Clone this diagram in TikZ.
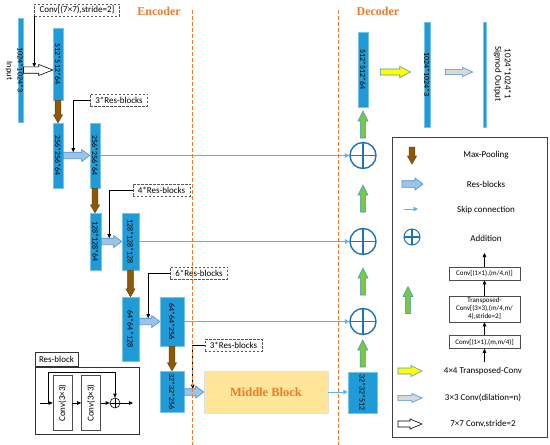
\documentclass[tikz,border=0pt]{standalone}
\usepackage{fontspec}
\setmainfont{Carlito}
\newfontfamily\headfont{Liberation Serif}
\usetikzlibrary{calc,arrows.meta}

\definecolor{fmapblue}{HTML}{1F9BD8}
\definecolor{resfill}{HTML}{9DC3E6}
\definecolor{resline}{HTML}{4A94D0}
\definecolor{skipblue}{HTML}{5AB4E6}
\definecolor{poolbrown}{HTML}{8A5A08}
\definecolor{upgreen}{HTML}{78C841}
\definecolor{headorange}{HTML}{F07A26}
\definecolor{sepcolor}{RGB}{240,120,40}
\definecolor{addblue}{HTML}{1E73BE}
\definecolor{midyellow}{HTML}{FFE699}
\definecolor{tconvyellow}{HTML}{FFFF00}
\definecolor{dilgrey}{HTML}{D9D9D9}
\definecolor{frame70}{HTML}{404040}

% block arrows: style, shaft half, head half, head length, tail, tip
\newcommand{\blockR}[6]{%
  \path[#1] let \p1=(#5), \p2=(#6) in
    (\x1,\y1+#2) -- (\x2-#4,\y1+#2) -- (\x2-#4,\y1+#3) -- (\x2,\y1)
    -- (\x2-#4,\y1-#3) -- (\x2-#4,\y1-#2) -- (\x1,\y1-#2) -- cycle;}
\newcommand{\blockD}[6]{%
  \path[#1] let \p1=(#5), \p2=(#6) in
    (\x1-#2,\y1) -- (\x1-#2,\y2+#4) -- (\x1-#3,\y2+#4) -- (\x1,\y2)
    -- (\x1+#3,\y2+#4) -- (\x1+#2,\y2+#4) -- (\x1+#2,\y1) -- cycle;}
\newcommand{\blockU}[6]{%
  \path[#1] let \p1=(#5), \p2=(#6) in
    (\x1-#2,\y1) -- (\x1-#2,\y2-#4) -- (\x1-#3,\y2-#4) -- (\x1,\y2)
    -- (\x1+#3,\y2-#4) -- (\x1+#2,\y2-#4) -- (\x1+#2,\y1) -- cycle;}

\newcommand{\poolarrow}[2]{\blockD{pool}{2.8pt}{4.6pt}{8pt}{#1}{#2}}
\newcommand{\resarrow}[2]{\blockR{resblk}{3.3pt}{6pt}{8pt}{#1}{#2}}
\newcommand{\convarrow}[2]{\blockR{conv7}{3.2pt}{5.5pt}{14pt}{#1}{#2}}
\newcommand{\tconvarrow}[2]{\blockR{tconv}{3pt}{5.5pt}{11pt}{#1}{#2}}
\newcommand{\dilarrow}[2]{\blockR{dilconv}{2.6pt}{4.5pt}{10pt}{#1}{#2}}
% green upsampling arrow, centred between two anchors
\newcommand{\upsarrow}[2]{\blockU{ups}{2.6pt}{5pt}{10pt}{$(#1)!.5!(#2)+(0,13.5)$}{$(#1)!.5!(#2)+(0,-13.5)$}}

\tikzset{
  fmap/.style={fill=fmapblue, draw=fmapblue!60!white, line width=0.5pt, inner sep=0pt},
  maplbl/.style={rotate=-90, inner sep=0pt, font=\fontsize{8}{9}\selectfont},
  pool/.style={fill=poolbrown, draw=poolbrown!70!black, line width=0.5pt},
  resblk/.style={fill=resfill, draw=resline, line width=0.6pt},
  conv7/.style={fill=white, draw=black, line width=0.6pt},
  tconv/.style={fill=tconvyellow, draw=resline, line width=0.6pt},
  dilconv/.style={fill=dilgrey, draw=resline, line width=0.6pt},
  ups/.style={fill=upgreen, draw=resline, line width=0.6pt},
  skip/.style={draw=skipblue, line width=0.9pt, -{Triangle[length=4.5pt,width=4.5pt]}},
  addc/.style={circle, draw=addblue, line width=1.4pt, minimum size=#1, inner sep=0pt,
    path picture={\draw[addblue, line width=1.4pt]
      (path picture bounding box.north) -- (path picture bounding box.south)
      (path picture bounding box.west) -- (path picture bounding box.east);}},
  addc/.default=26pt,
  sumc/.style={circle, draw=black, line width=0.6pt, minimum size=10pt, inner sep=0pt,
    path picture={\draw[black, line width=0.6pt]
      (path picture bounding box.north) -- (path picture bounding box.south)
      (path picture bounding box.west) -- (path picture bounding box.east);}},
  lbl/.style={draw=black, line width=0.6pt, -{Triangle[length=4pt,width=3.5pt]}},
  rblabel/.style={draw=black!65, dash pattern=on 2.5pt off 1.5pt, line width=0.6pt,
    inner xsep=5pt, inner ysep=0pt, minimum height=12pt, font=\fontsize{9}{10}\selectfont},
  stagesep/.style={draw=sepcolor, line width=1.3pt, dash pattern=on 3.5pt off 2.5pt},
  headlbl/.style={text=headorange, font=\headfont\bfseries\fontsize{12}{14}\selectfont},
  midblk/.style={fill=midyellow, draw=black!12, line width=0.6pt, minimum width=124pt,
    minimum height=42pt, text=headorange, font=\headfont\bfseries\fontsize{12.5}{14}\selectfont},
  legtxt/.style={font=\fontsize{9}{10}\selectfont, inner sep=0pt},
  chainbox/.style={draw=black!70, line width=0.6pt, minimum width=71pt, minimum height=13pt,
    inner sep=1pt, align=center, font=\fontsize{7}{8}\selectfont},
  flow/.style={draw=black, line width=0.7pt, -{Triangle[length=4pt,width=3.5pt]}},
  rbconv/.style={draw=black!70, line width=0.6pt, minimum width=19pt, minimum height=55pt, inner sep=0pt},
}

\begin{document}
\begin{tikzpicture}[x=1pt, y=-1pt]

  \path[use as bounding box, fill=white] (0,0) rectangle (550,445);

  % === Feature maps ===
  \foreach \nm/\cx/\cy/\mw/\mh/\txt in {
      inp/20.5/70/5.5/104/1024*1024*3,
      e1/58/64/10/72/512*512*64,
      e2/58/155.5/10/65/256*256*64,
      e3/95/155.5/10/65/256*256*64,
      e4/95.5/241.5/11/57/128*128*64,
      e5/130.5/241.5/17/57/128*128*128,
      e6/130.5/329/17/64/64*64*128,
      e7/172/321.5/24/49/64*64*256,
      e8/172/391.5/24/41/32*32*256,
      d1/362.5/392.5/29/41/32*32*512,
      d2/363/69.5/10/75/512*512*64,
      d3/427/74.5/6/105/1024*1024*3,
      d4/484.5/74.5/3/105/} {
    \node[fmap, minimum width=\mw, minimum height=\mh] (\nm) at (\cx,\cy) {};
    \node[maplbl] at (\nm) {\txt};
  }
  \node[rotate=-90, inner sep=0pt, font=\fontsize{8.5}{9}\selectfont] (inlbl) at (9,71) {Input};
  \node[rotate=-90, inner sep=0pt, align=center, font=\fontsize{9}{9.5}\selectfont] (outlbl)
    at (502.5,74) {1024*1024*1\\Sigmod Output};

  % Middle block
  \node[midblk] (mid) at (266,392) {Middle Block};

  % === Encoder arrows ===
  \convarrow{inp.east}{e1.west}
  \poolarrow{e1.south}{e2.north}
  \resarrow{e2.east}{e3.west}
  \poolarrow{e3.south}{e4.north}
  \resarrow{e4.east}{e5.west}
  \poolarrow{e5.south}{e6.north}
  \resarrow{e6.east |- e7}{e7.west}
  \poolarrow{e7.south}{e8.north}
  \resarrow{e8.east |- mid}{mid.west}

  % === Decoder: additions and upsampling ===
  \node[addc] (c1) at (d2 |- e3) {};
  \node[addc] (c2) at (d2 |- e5) {};
  \node[addc] (c3) at (d2 |- e7) {};
  \draw[skip] (e3.east) -- (c1.west);
  \draw[skip] (e5.east) -- (c2.west);
  \draw[skip] (e7.east) -- (c3.west);
  \draw[skip] (mid.east) -- (mid.east -| d1.west);
  \upsarrow{d1.north}{c3.south}
  \upsarrow{c3.north}{c2.south}
  \upsarrow{c2.north}{c1.south}
  \upsarrow{c1.north}{d2.south}
  \tconvarrow{[xshift=12pt,yshift=-2.5pt]d2.east}{[xshift=-13pt]d3.west}
  \dilarrow{[xshift=15pt,yshift=2.5pt]d3.east}{[xshift=-10pt]d4.west}

  % === Block labels ===
  \node[rblabel] (k1) at (77,10) {Conv[(7×7),stride=2]};
  \node[rblabel] (k2) at (119,100) {3*Res-blocks};
  \node[rblabel] (k3) at (161.5,190) {4*Res-blocks};
  \node[rblabel] (k4) at (199,273) {6*Res-blocks};
  \node[rblabel] (k5) at (233.5,345.5) {3*Res-blocks};
  \draw[lbl, shorten >=3pt] (k1.south west) -- (k1.south west |- inp.east);
  \draw[lbl, shorten >=3.3pt] (k2.west) -| ([xshift=10pt]e2.east);
  \draw[lbl, shorten >=3.3pt] (k3.west) -| ([xshift=8pt]e4.east);
  \draw[lbl, shorten >=3.3pt] (k4.west) -| ($(e6.east |- e7)+(9,0)$);
  \draw[lbl, shorten >=3.3pt] (k5.west) -| ($(e8.east |- mid)+(8.5,0)$);

  % Encoder / decoder split
  \draw[stagesep] (192.5,10) -- (192.5,445);
  \draw[stagesep] (338.5,10) -- (338.5,445);
  \node[headlbl] (enc) at (159,11) {Encoder};
  \node[headlbl] (dec) at (378,11) {Decoder};

  % === Legend ===
  \node[draw=frame70, line width=0.8pt, minimum width=155pt, minimum height=300pt] (legend) at (469.5,287) {};
  \coordinate (lgpoolA) at (412,147);
  \coordinate (lgpoolB) at (412,164);
  \poolarrow{lgpoolA}{lgpoolB}
  \node[legtxt] (lt1) at (486,155) {Max-Pooling};
  \coordinate (lgresA) at (402,184);
  \coordinate (lgresB) at (423,184);
  \resarrow{lgresA}{lgresB}
  \node[legtxt] (lt2) at (486,184) {Res-blocks};
  \coordinate (lgskipA) at (404,209);
  \coordinate (lgskipB) at (418,209);
  \draw[skip] (lgskipA) -- (lgskipB);
  \node[legtxt] (lt3) at (486,210) {Skip connection};
  \node[addc=16pt, line width=1pt] (lgadd) at (412,237) {};
  \node[legtxt] (lt4) at (486,238) {Addition};

  % upsampling block chain
  \node[chainbox] (b1) at (484.5,273.5) {Conv[(1×1),(m/4,n)]};
  \node[chainbox, minimum height=26pt] (b2) at (484.5,309) {Transposed-\\Conv[(3×3),(m/4,m/\\4),stride=2]};
  \node[chainbox] (b3) at (484.5,342) {Conv[(1×1),(m,m/4)]};
  \coordinate (bin) at (484.5,362);
  \coordinate (bout) at (484.5,253);
  \draw[flow] (bin) -- (b3);
  \draw[flow] (b3) -- (b2);
  \draw[flow] (b2) -- (b1);
  \draw[flow] (b1) -- (bout);
  \coordinate (lgup) at (408,300);
  \upsarrow{lgup}{lgup}

  \coordinate (lgtcA) at (398,371);
  \coordinate (lgtcB) at (422,371);
  \tconvarrow{lgtcA}{lgtcB}
  \node[legtxt] (lt5) at (483,371) {4×4 Transposed-Conv};
  \coordinate (lgdcA) at (398,398);
  \coordinate (lgdcB) at (422,398);
  \dilarrow{lgdcA}{lgdcB}
  \node[legtxt] (lt6) at (483,398) {3×3 Conv(dilation=n)};
  \coordinate (lgcvA) at (398,424);
  \coordinate (lgcvB) at (422,424);
  \blockR{conv7}{3pt}{5pt}{12pt}{lgcvA}{lgcvB}
  \node[legtxt] (lt7) at (483,424) {7×7 Conv,stride=2};

  % === Res-block inset ===
  \node[draw=black!80, line width=0.8pt, minimum width=104pt, minimum height=67pt] (rbframe) at (87,400.5) {};
  \node[draw=black!80, line width=0.8pt, fill=white, anchor=south west, inner xsep=4pt,
    inner ysep=0pt, minimum height=14pt, font=\fontsize{9}{10}\selectfont] (rbtab) at (rbframe.north west) {Res-block};
  \node[rbconv] (rc1) at (62.5,403) {};
  \node[rotate=90, inner sep=0pt, font=\fontsize{9}{10}\selectfont] at (rc1) {Conv(3×3)};
  \node[rbconv] (rc2) at (91,403) {};
  \node[rotate=90, inner sep=0pt, font=\fontsize{9}{10}\selectfont] at (rc2) {Conv(3×3)};
  \node[sumc] (rbsum) at (115,403) {};
  \coordinate (rbin) at (40,403);
  \coordinate (rbsplit) at (48,403);
  \coordinate (rbout) at (133,403);
  \draw[flow] (rbin) -- (rc1);
  \draw[flow] (rc1) -- (rc2);
  \draw[flow] (rc2) -- (rbsum);
  \draw[flow] (rbsum) -- (rbout);
  \draw[flow] (rbsplit) -- ++(0,-31) -| (rbsum);

\end{tikzpicture}
\end{document}
